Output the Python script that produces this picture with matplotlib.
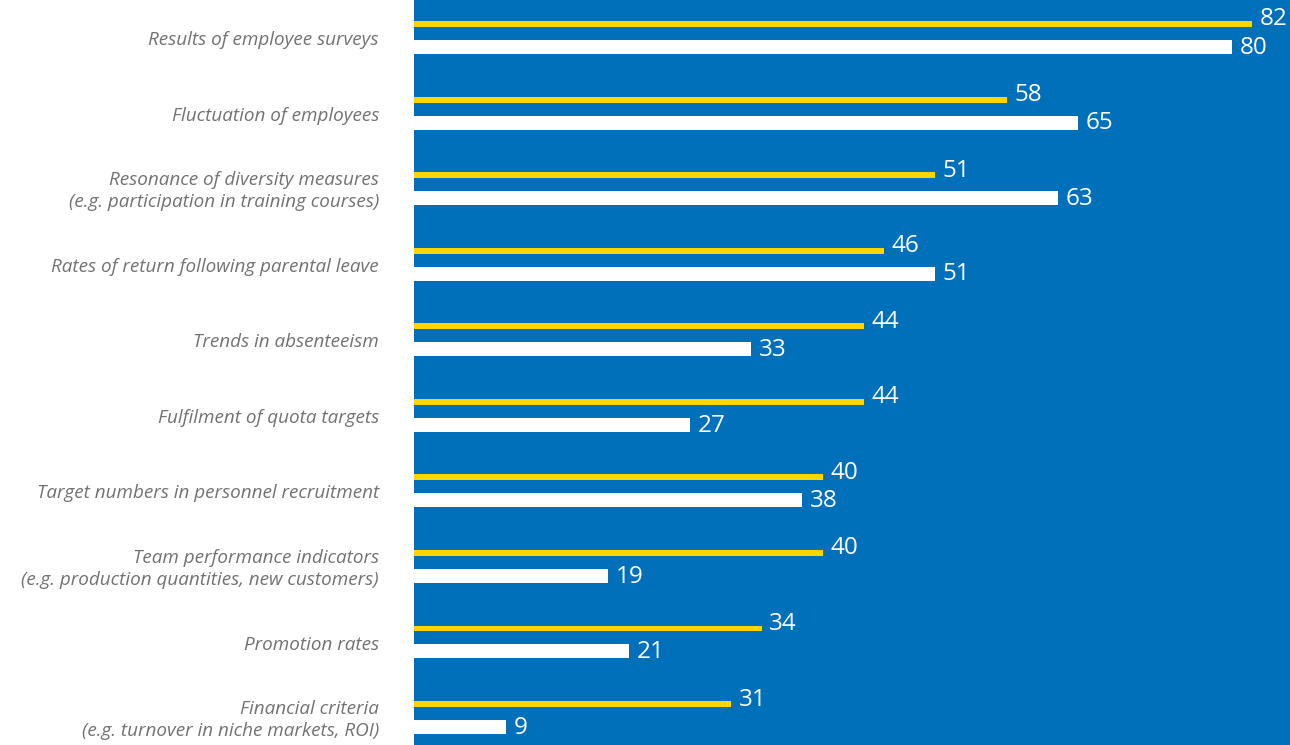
import matplotlib.pyplot as plt
import matplotlib.transforms as mtransforms

# categories from top to bottom
categories = [
    "Results of employee surveys",
    "Fluctuation of employees",
    "Resonance of diversity measures\n(e.g. participation in training courses)",
    "Rates of return following parental leave",
    "Trends in absenteeism",
    "Fulfilment of quota targets",
    "Target numbers in personnel recruitment",
    "Team performance indicators\n(e.g. production quantities, new customers)",
    "Promotion rates",
    "Financial criteria\n(e.g. turnover in niche markets, ROI)",
]
yellow_values = [82, 58, 51, 46, 44, 44, 40, 40, 34, 31]
white_values = [80, 65, 63, 51, 33, 27, 38, 19, 21, 9]

BLUE = "#0070BA"
YELLOW = "#FFD500"
GRAY = "#727272"

fig = plt.figure(figsize=(12.9, 7.45), dpi=100)
ax = fig.add_axes([414 / 1290, 0, 1 - 414 / 1290, 1])
ax.set_facecolor(BLUE)

pos = list(range(len(categories)))
y_yellow = [p - 0.152 for p in pos]
y_white = [p + 0.152 for p in pos]

ax.barh(y_yellow, yellow_values, height=0.079, color=YELLOW, linewidth=0)
ax.barh(y_white, white_values, height=0.185, color="white", linewidth=0)

for y, v in zip(y_yellow, yellow_values):
    ax.text(v + 0.75, y - 0.06, str(v), color="white", fontsize=17.5,
            family="Open Sans", va="center", ha="left")
for y, v in zip(y_white, white_values):
    ax.text(v + 0.75, y + 0.01, str(v), color="white", fontsize=17.5,
            family="Open Sans", va="center", ha="left")

# category labels to the left of the panel
trans = mtransforms.blended_transform_factory(fig.transFigure, ax.transData)
for p, label in zip(pos, categories):
    fig.text(379 / 1290, p + 0.06, label, transform=trans, ha="right", va="center",
             color=GRAY, fontsize=13.6, style="italic", family="Open Sans",
             linespacing=1.25)

ax.set_xlim(0, 85.7)
ax.set_ylim(9.39, -0.47)
ax.set_xticks([])
ax.set_yticks([])
for s in ax.spines.values():
    s.set_visible(False)

fig.savefig("out.png", dpi=100)
